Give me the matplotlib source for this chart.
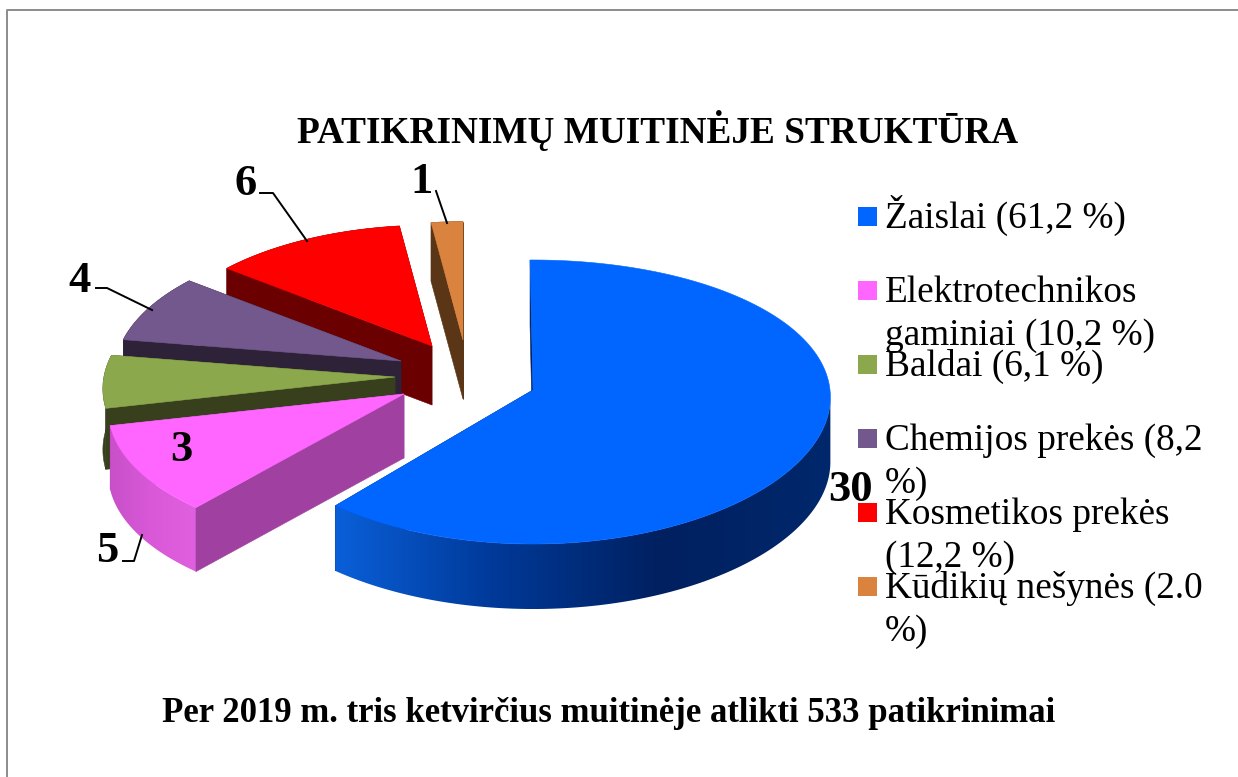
"""Exploded 3D pie of customs inspections, drawn by hand on a pixel-sized axes."""
import numpy as np
import matplotlib
matplotlib.use('Agg')
import matplotlib.pyplot as plt
from matplotlib.colors import to_rgb
from matplotlib.patches import Polygon

values = [30, 5, 3, 4, 6, 1]
legend_labels = [
    'Žaislai (61,2 %)',
    'Elektrotechnikos\ngaminiai (10,2 %)',
    'Baldai (6,1 %)',
    'Chemijos prekės (8,2\n%)',
    'Kosmetikos prekės\n(12,2 %)',
    'Kūdikių nešynės (2.0\n%)',
]
title = 'PATIKRINIMŲ MUITINĖJE STRUKTŪRA'
footer = 'Per 2019 m. tris ketvirčius muitinėje atlikti 533 patikrinimai'

top_colors = ['#0066FF', '#FF66FF', '#8CA84D', '#72588C', '#FF0000', '#D9833F']
cut_colors = ['#00205F', '#A040A0', '#383F1D', '#2D2238', '#6B0000', '#5A3516']

# where each slice's tip sits in the picture, its depth and how far back it shrinks
apex = [(533, 390), (404, 394), (395, 377), (401, 361), (432, 346), (463, 340)]
depth = [65, 64, 61, 60, 59, 59]
shrink = [1.0, 0.99, 0.98, 0.96, 0.93, 0.91]
persp_x = [0.05, 0.11, 0.0845, 0.0845, 0.0845, 0.0845]
twist = [-0.6, 0, 0, 0, 0, 0]
RX, RY, PERSP_Y = 297, 141, 0.0845

# side shading, colour against x position
side_stops = {
    0: ([338, 490, 660, 830], ['#0A5FD8', '#003A9A', '#002060', '#00286C']),
    1: ([110, 150, 197], ['#C850C8', '#D858D8', '#E060E0']),
}

plt.rcParams['font.family'] = ['Liberation Serif', 'DejaVu Serif']

fig = plt.figure(figsize=(12.38, 7.77), dpi=100)
ax = fig.add_axes([0, 0, 1, 1])


def project(theta, i):
    # theta is degrees clockwise from 12 o'clock
    t = np.radians(theta + twist[i])
    u, v = np.sin(t), -np.cos(t)
    return (apex[i][0] + shrink[i] * RX * u / (1 - persp_x[i] * v),
            apex[i][1] + shrink[i] * RY * v / (1 - PERSP_Y * v))


def draw_side(i, xs, ys, d, z):
    if i not in side_stops:
        px = np.r_[xs, xs[::-1]]
        py = np.r_[ys, ys[::-1] + d]
        ax.fill(px, py, color=cut_colors[i], lw=0.4, zorder=z)
        return
    # only the rim past the rightmost point faces us, the band folds over itself before it
    k = np.argmax(xs)
    px = np.r_[xs[k:], xs[k:][::-1]]
    py = np.r_[ys[k:], ys[k:][::-1] + d]
    stops, cols = side_stops[i]
    rgb = np.array([to_rgb(c) for c in cols])
    grid = np.linspace(px.min() - 2, px.max() + 2, 500)
    shade = np.stack([np.interp(grid, stops, rgb[:, c]) for c in range(3)], axis=1)
    im = ax.imshow(shade[None, :, :], aspect='auto', zorder=z,
                   extent=(grid[0], grid[-1], py.max() + 2, py.min() - 2))
    im.set_clip_path(Polygon(np.c_[px, py], transform=ax.transData))


edges = np.concatenate([[0], np.cumsum(values)]) / np.sum(values) * 360

# back slices first, the big blue one last
for i in [5, 4, 3, 2, 1, 0]:
    a0, a1 = edges[i], edges[i + 1]
    ax0, ay0 = apex[i]
    d = depth[i]
    base = (5 - i) * 10 + 1

    # cut faces, the one further back first
    far, near = sorted([a0, a1], key=lambda a: -np.cos(np.radians(a)))

    def cut_face(angle, z):
        px, py = project(angle, i)
        ax.fill([ax0, px, px, ax0], [ay0, py, py + d, ay0 + d],
                color=cut_colors[i], lw=0.4, zorder=z)

    cut_face(far, base)
    # the blue slice's lower cut faces away from the viewer, so it goes under the rim
    cut_face(near, base if i == 0 else base + 2)

    theta = np.linspace(a0, a1, 241)
    xs, ys = project(theta, i)
    draw_side(i, xs, ys, d, base + 1)

    ax.fill(np.r_[ax0, xs], np.r_[ay0, ys], color=top_colors[i], lw=0.4, zorder=base + 3)

# data labels and their leader lines
label_pos = [(851, 490), (107, 551), (181, 450), (80, 281), (246, 184), (421, 182)]
leaders = [
    None,
    [(123, 561), (134, 561), (142, 535)],
    None,
    [(96, 288), (107, 288), (152, 310)],
    [(260, 193), (273, 193), (307, 241)],
    [(436, 191), (447, 223)],
]
for v, (x, y), ld in zip(values, label_pos, leaders):
    ax.text(x, y, str(v), fontsize=32, fontweight='bold', ha='center', va='center', zorder=100)
    if ld:
        ax.plot(*zip(*ld), color='black', lw=1.4, zorder=99)

# legend
legend_x, legend_y, legend_step = 858, 207, 74
for i, label in enumerate(legend_labels):
    top = legend_y + i * legend_step
    ax.fill([legend_x, legend_x + 19, legend_x + 19, legend_x],
            [top, top, top + 19, top + 19], color=top_colors[i], lw=0, zorder=100)
    for j, line in enumerate(label.split('\n')):
        ax.text(885, top + 21 + j * 43, line, fontsize=26.8, ha='left', va='baseline', zorder=101)

ax.text(658, 143, title, fontsize=26.8, fontweight='bold', ha='center', va='baseline')
ax.text(608.5, 722, footer, fontsize=25, fontweight='bold', ha='center', va='baseline')

# frame of the original slide, left and top only
ax.plot([7, 7, 1238], [777, 10, 10], color='#8C8C8C', lw=1.4, zorder=1)

ax.set_xlim(0, 1238)
ax.set_ylim(777, 0)
ax.axis('off')

plt.savefig('out.png', dpi=100)
